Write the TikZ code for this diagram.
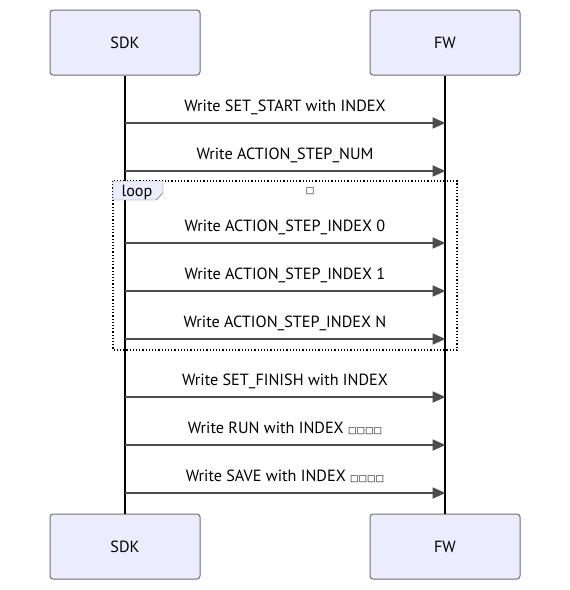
\documentclass[tikz,border=0pt]{standalone}
\usepackage{fontspec}
\setmainfont{PT Sans}
\newfontfamily\tofu{DejaVu Sans}
\usetikzlibrary{arrows.meta}
\definecolor{actorfill}{HTML}{ECECFF}
\definecolor{actorline}{HTML}{707070}
\definecolor{msgline}{HTML}{4D4D4D}
\newcommand{\boxes}[1]{{\tofu\fontsize{9}{10}\selectfont #1}}

\begin{document}
\begin{tikzpicture}[x=1pt, y=-1pt, font=\fontsize{16.2}{18}\selectfont,
    actor/.style={draw=actorline, fill=actorfill, rounded corners=3pt, minimum width=150pt, minimum height=65pt, line width=1pt},
    msg/.style={-{Triangle[length=13pt, width=11pt]}, draw=msgline, line width=1.8pt, shorten >=-0.5pt},
    life/.style={line width=1.4pt},
    note/.style={anchor=base, midway, yshift=11.5pt}]
    \useasboundingbox (0,0) rectangle (570,590);
    % actors
    \node[actor] (sdk) at (125,42.5) {SDK};
    \node[actor] (fw) at (445,42.5) {FW};
    \node[actor] (sdkb) at (125,546.5) {SDK};
    \node[actor] (fwb) at (445,546.5) {FW};
    \draw[life] (sdk) -- (sdkb);
    \draw[life] (fw) -- (fwb);
    % loop frame
    \draw[line width=1.2pt, dotted] (113,181) rectangle (457,350);
    \draw[draw=actorline, fill=actorfill] (113,181) -- (163,181) -- (163,193) -- (156,200) -- (113,200) -- cycle;
    \node (looplbl) at (137,192.5) {loop};
    \node (looptitle) at (310,191.5) {\boxes{□}};
    % messages
    \foreach \i/\y/\txt in {1/123/{Write SET\_START with INDEX},
                           2/171/{Write ACTION\_STEP\_NUM},
                           3/243/{Write ACTION\_STEP\_INDEX 0},
                           4/291/{Write ACTION\_STEP\_INDEX 1},
                           5/339/{Write ACTION\_STEP\_INDEX N},
                           6/397/{Write SET\_FINISH with INDEX},
                           7/445/{Write RUN with INDEX \boxes{□□□□}},
                           8/493/{Write SAVE with INDEX \boxes{□□□□}}} {
      \coordinate (s\i) at (125,\y);
      \coordinate (f\i) at (445,\y);
      \draw[msg] (s\i) -- node[note] {\txt} (f\i);
    }
\end{tikzpicture}
\end{document}
